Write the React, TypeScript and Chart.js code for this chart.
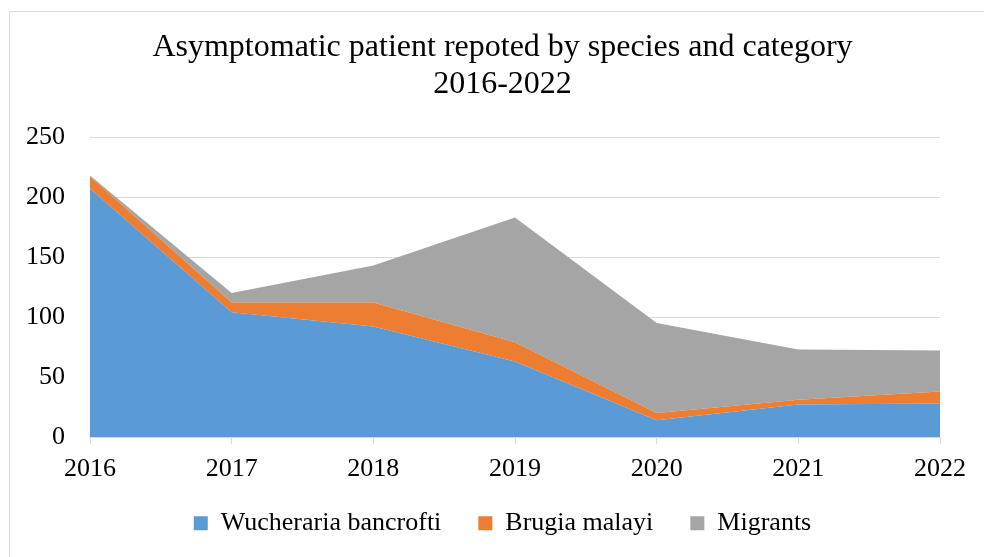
import React, { useEffect, useRef } from "react";
import { Chart, registerables } from "chart.js";

Chart.register(...registerables);

const years = ["2016", "2017", "2018", "2019", "2020", "2021", "2022"];
const wuchereria = [207, 104, 92, 63, 14, 27, 28];
const brugia = [10, 8, 20, 16, 6, 4, 10];
const migrants = [1, 8, 31, 104, 75, 42, 34];
const yTicks = { min: 0, max: 250, step: 50 };
const titleLines = ["Asymptomatic patient repoted by species and category", "2016-2022"];
const seriesNames = ["Wucheraria bancrofti", "Brugia malayi", "Migrants"];
const seriesColors = ["#5b9bd5", "#ed7d31", "#a5a5a5"];

const FONT = "'Liberation Serif', 'Times New Roman', serif";

const frame = {
  id: "frame",
  beforeDraw(chart: any) {
    const { ctx, width, height } = chart;
    ctx.save();
    ctx.fillStyle = "#ffffff";
    ctx.fillRect(0, 0, width, height);
    ctx.strokeStyle = "#d9d9d9";
    ctx.lineWidth = 1;
    ctx.beginPath();
    ctx.moveTo(9.5, height);
    ctx.lineTo(9.5, 11.5);
    ctx.lineTo(width, 11.5);
    ctx.stroke();
    ctx.restore();
  },
};

// widen the label clipping areas of the axes so their tick labels are not cut
const unclip = {
  id: "unclip",
  afterLayout(chart: any) {
    const { x, y } = chart.scales;
    if (y) y.left = 0;
    if (x) x.bottom = chart.height;
  },
};

export default function App() {
  const ref = useRef<HTMLCanvasElement | null>(null);

  useEffect(() => {
    if (!ref.current) return;
    const seriesData = [wuchereria, brugia, migrants];
    const chart = new Chart(ref.current, {
      type: "line",
      data: {
        labels: years,
        datasets: seriesData.map((d, i) => ({
          label: seriesNames[i],
          data: d,
          backgroundColor: seriesColors[i],
          borderColor: seriesColors[i],
          borderWidth: 0,
          pointRadius: 0,
          tension: 0,
          fill: i === 0 ? "origin" : "-1",
        })),
      },
      options: {
        animation: false,
        responsive: false,
        layout: { padding: { left: 65, right: 44, top: 0, bottom: 10.7 } },
        plugins: {
          title: {
            display: true,
            text: titleLines,
            color: "#000000",
            font: { family: FONT, size: 32, weight: "normal", lineHeight: 1.147 },
            padding: { top: 29.4, bottom: 34.2 },
          },
          legend: {
            position: "bottom",
            labels: {
              color: "#000000",
              font: { family: FONT, size: 26 },
              boxWidth: 14,
              boxHeight: 14,
              padding: 37,
            },
          },
          tooltip: { enabled: false },
        },
        scales: {
          x: {
            type: "category",
            offset: false,
            grid: {
              drawOnChartArea: false,
              drawTicks: true,
              tickLength: 7,
              color: "#d9d9d9",
            },
            border: { display: true, color: "#d9d9d9", width: 1 },
            ticks: {
              color: "#000000",
              font: { family: FONT, size: 26 },
              padding: 9.6,
              maxRotation: 0,
              autoSkip: false,
            },
            afterFit(scale: any) {
              scale.height = 36.3;
            },
          },
          y: {
            stacked: true,
            min: yTicks.min,
            max: yTicks.max,
            grid: { color: "#d9d9d9", drawTicks: false, lineWidth: 1 },
            border: { display: false },
            ticks: {
              stepSize: yTicks.step,
              color: "#000000",
              font: { family: FONT, size: 26 },
              padding: 25,
            },
            afterFit(scale: any) {
              scale.width = 25;
            },
          },
        },
      },
      plugins: [frame, unclip],
    } as any);
    return () => chart.destroy();
  }, []);

  return (
    <div style={{ position: "fixed", left: 0, top: 0, width: 984, height: 557 }}>
      <canvas ref={ref} width={984} height={557} style={{ width: 984, height: 557, display: "block" }} />
    </div>
  );
}
